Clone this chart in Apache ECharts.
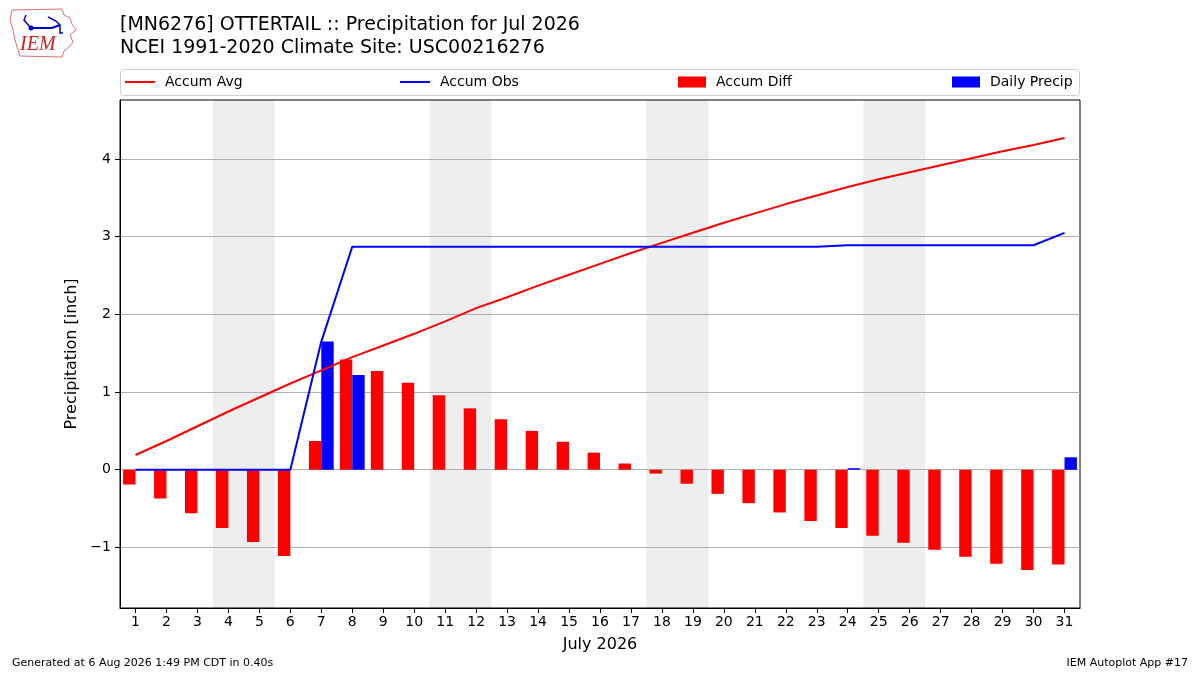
<!DOCTYPE html>
<html>
<head>
<meta charset="utf-8">
<script src="https://cdn.jsdelivr.net/npm/echarts@6/dist/echarts.min.js"></script>
<style>
  html, body { margin: 0; padding: 0; background: #fff; }
  #chart { width: 1200px; height: 675px; }
</style>
</head>
<body>
<div id="chart"></div>
<script>
// days of July 2026
var days = [];
for (var d = 1; d <= 31; d++) { days.push(String(d)); }

// values (inch)
var accumAvg = [0.19, 0.37, 0.56, 0.75, 0.93, 1.11, 1.28, 1.45, 1.60, 1.75,
                1.91, 2.08, 2.22, 2.37, 2.51, 2.65, 2.79, 2.92, 3.05, 3.18,
                3.30, 3.42, 3.53, 3.64, 3.74, 3.83, 3.92, 4.01, 4.10, 4.18, 4.27];
var accumObs = [0, 0, 0, 0, 0, 0, 1.65, 2.87, 2.87, 2.87,
                2.87, 2.87, 2.87, 2.87, 2.87, 2.87, 2.87, 2.87, 2.87, 2.87,
                2.87, 2.87, 2.87, 2.89, 2.89, 2.89, 2.89, 2.89, 2.89, 2.89, 3.05];
var accumDiff = [-0.19, -0.37, -0.56, -0.75, -0.93, -1.11, 0.37, 1.42, 1.27, 1.12,
                 0.96, 0.79, 0.65, 0.50, 0.36, 0.22, 0.08, -0.05, -0.18, -0.31,
                 -0.43, -0.55, -0.66, -0.75, -0.85, -0.94, -1.03, -1.12, -1.21, -1.29, -1.22];
var dailyPrecip = [0, 0, 0, 0, 0, 0, 1.65, 1.22, 0, 0,
                   0, 0, 0, 0, 0, 0, 0, 0, 0, 0,
                   0, 0, 0, 0.02, 0, 0, 0, 0, 0, 0, 0.16];
// first day of each shaded weekend (two days wide)
var weekendStarts = [4, 11, 18, 25];
var yTicks = [-1, 0, 1, 2, 3, 4];

var FONT = 'DejaVu Sans';

var bands = weekendStarts.map(function(s){
    return [{ xAxis: s - 0.5 }, { xAxis: s + 1.5 }];
});

var fmtY = function(v){
    return v < 0 ? '\u2212' + (-v) : String(v);
};

var legendText = { fontFamily: FONT, fontSize: 14, color: '#000', padding: [0, 0, 0, 5] };

var chart = echarts.init(document.getElementById('chart'));
chart.setOption({
    animation: false,
    backgroundColor: '#fff',
    textStyle: { fontFamily: FONT },
    title: [
        {
            text: '[MN6276] OTTERTAIL :: Precipitation for Jul 2026\nNCEI 1991-2020 Climate Site: USC00216276',
            left: 115, top: 9,
            textStyle: { fontFamily: FONT, fontSize: 19, fontWeight: 'normal', color: '#000', lineHeight: 23 }
        },
        {
            text: 'Generated at 6 Aug 2026 1:49 PM CDT in 0.40s',
            left: 7, top: 653,
            textStyle: { fontFamily: FONT, fontSize: 11, fontWeight: 'normal', color: '#000' }
        },
        {
            text: 'IEM Autoplot App #17',
            right: 7, top: 653,
            textStyle: { fontFamily: FONT, fontSize: 11, fontWeight: 'normal', color: '#000' }
        }
    ],
    legend: [
        { data: ['Accum Avg'], left: 120, top: 70, icon: 'rect', itemWidth: 30, itemHeight: 2, textStyle: legendText },
        { data: ['Accum Obs'], left: 395, top: 70, icon: 'rect', itemWidth: 30, itemHeight: 2, textStyle: legendText },
        { data: ['Accum Diff'], left: 673, top: 70, icon: 'rect', itemWidth: 28, itemHeight: 11, textStyle: legendText },
        { data: ['Daily Precip'], left: 947, top: 70, icon: 'rect', itemWidth: 28, itemHeight: 11, textStyle: legendText }
    ],
    graphic: [
        // legend frame
        { type: 'rect', shape: { x: 120.5, y: 69.5, width: 959, height: 26, r: 3 },
          style: { fill: 'rgba(255,255,255,0.8)', stroke: '#d0d0d0', lineWidth: 1 }, z: -1 },
        // IEM logo, rough
        { type: 'polyline', shape: { points: [[12,10],[62,9],[64,15],[70,18],[72,24],[76,30],[70,35],[73,42],[68,48],[64,51],[62,57],[20,56],[18,50],[15,40],[13,30],[10,20],[12,10]] },
          style: { fill: 'none', stroke: '#e07070', lineWidth: 1 } },
        { type: 'polyline', shape: { points: [[30,28],[52,28],[60,25]] }, style: { fill: 'none', stroke: '#0000cc', lineWidth: 2 } },
        { type: 'polyline', shape: { points: [[26,15],[24,20],[30,27]] }, style: { fill: 'none', stroke: '#0000cc', lineWidth: 1.5 } },
        { type: 'polyline', shape: { points: [[48,17],[56,21],[60,25],[60,33],[63,33]] }, style: { fill: 'none', stroke: '#0000cc', lineWidth: 1.5 } },
        { type: 'circle', shape: { cx: 31, cy: 28, r: 2.5 }, style: { fill: '#0000cc' } },
        { type: 'text', left: 20, top: 35,
          style: { text: 'IEM', font: 'italic 20px "Liberation Serif"', fill: '#d02020' } }
    ],
    grid: {
        left: 120, right: 120, top: 100, bottom: 67,
        show: true, borderColor: '#000', borderWidth: 1, backgroundColor: 'transparent'
    },
    xAxis: [
        {
            type: 'category',
            data: days,
            boundaryGap: true,
            name: 'July 2026',
            nameLocation: 'middle',
            nameGap: 29,
            nameTextStyle: { fontFamily: FONT, fontSize: 16, color: '#000' },
            axisLine: { show: true, onZero: false, lineStyle: { color: '#000', width: 1 } },
            axisTick: { show: true, alignWithLabel: true, interval: 0, length: 5, lineStyle: { color: '#000' } },
            axisLabel: { interval: 0, margin: 7, fontFamily: FONT, fontSize: 14, color: '#000' },
            splitLine: { show: false }
        },
        {
            type: 'value',
            min: 0.5, max: 31.5,
            show: false
        }
    ],
    yAxis: {
        type: 'value',
        min: -1.78, max: 4.76,
        name: 'Precipitation [inch]',
        nameLocation: 'middle',
        nameGap: 33,
        nameTextStyle: { fontFamily: FONT, fontSize: 16, color: '#000' },
        axisLine: { show: true, lineStyle: { color: '#000', width: 1 } },
        axisTick: { show: true, length: 5, lineStyle: { color: '#000' }, customValues: yTicks },
        axisLabel: { margin: 9, fontFamily: FONT, fontSize: 14, color: '#000', formatter: fmtY, customValues: yTicks },
        splitLine: { show: true, lineStyle: { color: '#b0b0b0', width: 1 } }
    },
    series: [
        {
            name: 'weekends',
            type: 'line',
            xAxisIndex: 1,
            data: [],
            z: -1,
            silent: true,
            markArea: { silent: true, z: -1, itemStyle: { color: '#eeeeee' }, data: bands }
        },
        {
            name: 'Accum Diff',
            type: 'bar',
            data: accumDiff,
            barWidth: 12.4,
            barGap: '0%',
            itemStyle: { color: '#ff0000' },
            z: 2
        },
        {
            name: 'Daily Precip',
            type: 'bar',
            data: dailyPrecip,
            barWidth: 12.4,
            barGap: '0%',
            itemStyle: { color: '#0000ff' },
            z: 2
        },
        {
            name: 'Accum Avg',
            type: 'line',
            data: accumAvg,
            symbol: 'none',
            lineStyle: { color: '#ff0000', width: 2 },
            itemStyle: { color: '#ff0000' },
            z: 4
        },
        {
            name: 'Accum Obs',
            type: 'line',
            data: accumObs,
            symbol: 'none',
            lineStyle: { color: '#0000ff', width: 2 },
            itemStyle: { color: '#0000ff' },
            z: 4
        }
    ]
});
</script>
</body>
</html>
